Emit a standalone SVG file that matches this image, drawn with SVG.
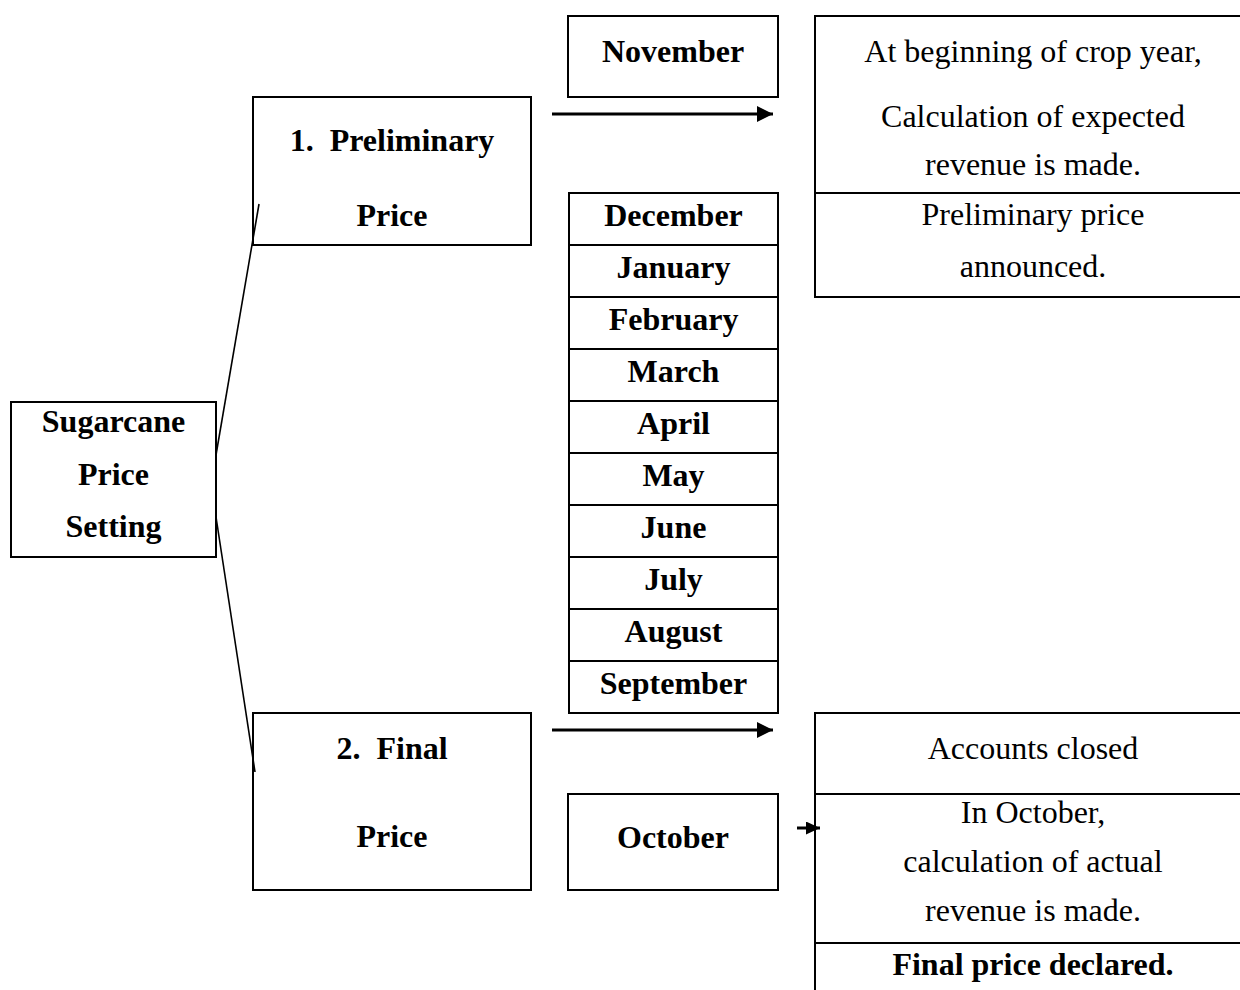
<svg xmlns="http://www.w3.org/2000/svg" width="1240" height="990" viewBox="0 0 1240 990">
  <style>
    .box { fill: none; stroke: #000; stroke-width: 2; }
    .sep { stroke: #000; stroke-width: 2; }
    .link { stroke: #000; stroke-width: 1.6; fill: none; }
    .arrow { stroke: #000; stroke-width: 3; fill: none; }
    text { font-family: "Liberation Serif", "Times New Roman", serif; font-size: 32px; fill: #000; text-anchor: middle; }
    .b { font-weight: bold; }
  </style>
  <defs>
    <marker id="head" viewBox="0 0 16 16" refX="16" refY="8" markerWidth="16" markerHeight="16" markerUnits="userSpaceOnUse" orient="auto">
      <path d="M0,0 L16,8 L0,16 Z" fill="#000"/>
    </marker>
    <marker id="headSmall" viewBox="0 0 14 13" refX="14" refY="6.5" markerWidth="14" markerHeight="13" markerUnits="userSpaceOnUse" orient="auto">
      <path d="M0,0 L14,6.5 L0,13 Z" fill="#000"/>
    </marker>
  </defs>

  <!-- connectors -->
  <g id="connectors">
    <line class="link" x1="216" y1="455" x2="259" y2="204"/>
    <line class="link" x1="216" y1="517" x2="255" y2="772"/>
    <line class="arrow" x1="552" y1="114" x2="773" y2="114" marker-end="url(#head)"/>
    <line class="arrow" x1="552" y1="730" x2="773" y2="730" marker-end="url(#head)"/>
    <line class="arrow" x1="797" y1="828" x2="820" y2="828" marker-end="url(#headSmall)"/>
  </g>

  <!-- root node -->
  <g id="sugarcane-price-setting">
    <rect class="box" x="11" y="402" width="205" height="155"/>
    <text class="b" x="113.5" y="432">Sugarcane</text>
    <text class="b" x="113.5" y="485">Price</text>
    <text class="b" x="113.5" y="537">Setting</text>
  </g>

  <g id="preliminary-price">
    <rect class="box" x="253" y="97" width="278" height="148"/>
    <text class="b" x="392" y="151" xml:space="preserve">1.  Preliminary</text>
    <text class="b" x="392" y="226">Price</text>
  </g>

  <g id="final-price">
    <rect class="box" x="253" y="713" width="278" height="177"/>
    <text class="b" x="392" y="759" xml:space="preserve">2.  Final</text>
    <text class="b" x="392" y="847">Price</text>
  </g>

  <g id="november">
    <rect class="box" x="568" y="16" width="210" height="81"/>
    <text class="b" x="673" y="62">November</text>
  </g>

  <!-- month table, December to September -->
  <g id="months">
    <rect class="box" x="569" y="193" width="209" height="520"/>
    <line class="sep" x1="569" y1="245" x2="778" y2="245"/>
    <line class="sep" x1="569" y1="297" x2="778" y2="297"/>
    <line class="sep" x1="569" y1="349" x2="778" y2="349"/>
    <line class="sep" x1="569" y1="401" x2="778" y2="401"/>
    <line class="sep" x1="569" y1="453" x2="778" y2="453"/>
    <line class="sep" x1="569" y1="505" x2="778" y2="505"/>
    <line class="sep" x1="569" y1="557" x2="778" y2="557"/>
    <line class="sep" x1="569" y1="609" x2="778" y2="609"/>
    <line class="sep" x1="569" y1="661" x2="778" y2="661"/>
    <text class="b" x="673.5" y="226">December</text>
    <text class="b" x="673.5" y="278">January</text>
    <text class="b" x="673.5" y="330">February</text>
    <text class="b" x="673.5" y="382">March</text>
    <text class="b" x="673.5" y="434">April</text>
    <text class="b" x="673.5" y="486">May</text>
    <text class="b" x="673.5" y="538">June</text>
    <text class="b" x="673.5" y="590">July</text>
    <text class="b" x="673.5" y="642">August</text>
    <text class="b" x="673.5" y="694">September</text>
  </g>

  <g id="october">
    <rect class="box" x="568" y="794" width="210" height="96"/>
    <text class="b" x="673" y="848">October</text>
  </g>

  <g id="preliminary-detail">
    <rect class="box" x="815" y="16" width="440" height="281"/>
    <line class="sep" x1="815" y1="193" x2="1255" y2="193"/>
    <text x="1033" y="62">At beginning of crop year,</text>
    <text x="1033" y="127">Calculation of expected</text>
    <text x="1033" y="175">revenue is made.</text>
    <text x="1033" y="225">Preliminary price</text>
    <text x="1033" y="277">announced.</text>
  </g>

  <g id="final-detail">
    <rect class="box" x="815" y="713" width="440" height="290"/>
    <line class="sep" x1="815" y1="794" x2="1255" y2="794"/>
    <line class="sep" x1="815" y1="943" x2="1255" y2="943"/>
    <text x="1033" y="759">Accounts closed</text>
    <text x="1033" y="823">In October,</text>
    <text x="1033" y="872">calculation of actual</text>
    <text x="1033" y="921">revenue is made.</text>
    <text class="b" x="1033" y="975">Final price declared.</text>
  </g>
</svg>
